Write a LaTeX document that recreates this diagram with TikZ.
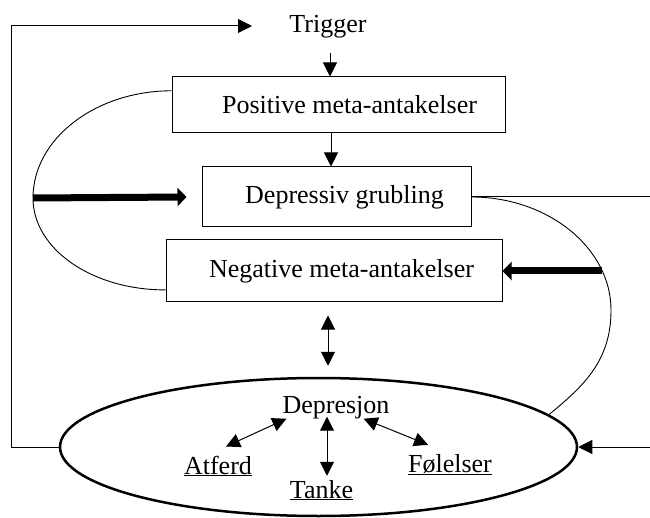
\documentclass[tikz,border=0pt]{standalone}
\usepackage{fontspec}
\setmainfont{Liberation Serif}
\usetikzlibrary{arrows.meta,shapes.geometric,calc}
\begin{document}
\begin{tikzpicture}[x=1pt,y=-1pt,
  every node/.style={font=\fontsize{26}{30}\selectfont,inner sep=0pt},
  boxnode/.style={draw,line width=1pt},
  thinline/.style={line width=1pt},
  tipend/.style={-{Triangle[length=14pt,width=14pt]}},
  bothtips/.style={{Triangle[length=14pt,width=14pt]}-{Triangle[length=14pt,width=14pt]}},
  fatarrow/.style={line width=7pt,-{Triangle[length=9pt,width=18pt]}},
  loopline/.style={line width=0.9pt}]
\useasboundingbox (0,0) rectangle (650,518);

% nodes
\node[anchor=base] (trig) at (328,33) {Trigger};
\node[boxnode,minimum width=333pt,minimum height=56pt] (pos) at (338.5,105) {\hspace*{22pt}Positive meta-antakelser};
\node[boxnode,minimum width=269pt,minimum height=60pt] (dep) at (336.5,197) {\hspace*{16pt}Depressiv grubling};
\node[boxnode,minimum width=336pt,minimum height=62pt] (neg) at (334,271) {\hspace*{15pt}Negative meta-antakelser};
\node[draw,ellipse,line width=2.5pt,minimum width=517pt,minimum height=138pt] (ell) at (318.5,447) {};

\node[anchor=base] (dp) at (336,413) {Depresjon};
\node[anchor=base] (af) at (218,474) {\underline{Atferd}};
\node[anchor=base] (tk) at (321.5,498) {\underline{Tanke}};
\node[anchor=base] (fl) at (450,472) {\underline{Følelser}};

% helper coordinates
\coordinate (ax1) at (330,0);
\coordinate (ax2) at (331,0);
\coordinate (ax3) at (328,0);
\coordinate (tl) at (252,26);
\coordinate (rEndA) at (650,197);
\coordinate (rEndB) at (650,447);
\coordinate (rp) at (602,271);

% top feedback line
\draw[thinline,tipend] (ell.west) -- ++(-47,0) |- (tl);

% vertical arrows
\draw[thinline,tipend] ([yshift=-14pt]trig.south -| ax1) -- (pos.north -| ax1);
\draw[thinline,tipend] (pos.south -| ax2) -- (dep.north -| ax2);
\draw[thinline,bothtips] ([yshift=-13pt]neg.south -| ax3) -- ([yshift=11pt]ell.north -| ax3);

% left loop
\draw[loopline] ($(pos.north west)!0.25!(pos.south west)$) .. controls (95,91) and (33,139) .. (33,198) coordinate (lp)
  .. controls (33,249) and (92,290) .. ($(neg.north west)!0.8!(neg.south west)$);
\draw[fatarrow] (lp) -- ([xshift=-15pt]dep.west);

% right loop
\draw[thinline] (dep.east) -- (rEndA);
\draw[loopline] (dep.east) .. controls (548,197) and (611,248) .. (611,310)
  .. controls (611,360) and (585,385) .. (ell.8.6);
\draw[fatarrow] (rp) -- (neg.east);

% right arrow into ellipse
\draw[thinline,tipend] (rEndB) -- (ell.east);

% inner arrows
\draw[thinline,bothtips] ([xshift=8pt,yshift=9pt]af.north) -- ([xshift=4pt]dp.south west);
\draw[thinline,bothtips] ([xshift=-9pt,yshift=2pt]dp.south) -- ([xshift=5.5pt,yshift=4pt]tk.north);
\draw[thinline,bothtips] ([xshift=-26pt]dp.south east) -- ([xshift=-22pt,yshift=9pt]fl.north);
\end{tikzpicture}
\end{document}
